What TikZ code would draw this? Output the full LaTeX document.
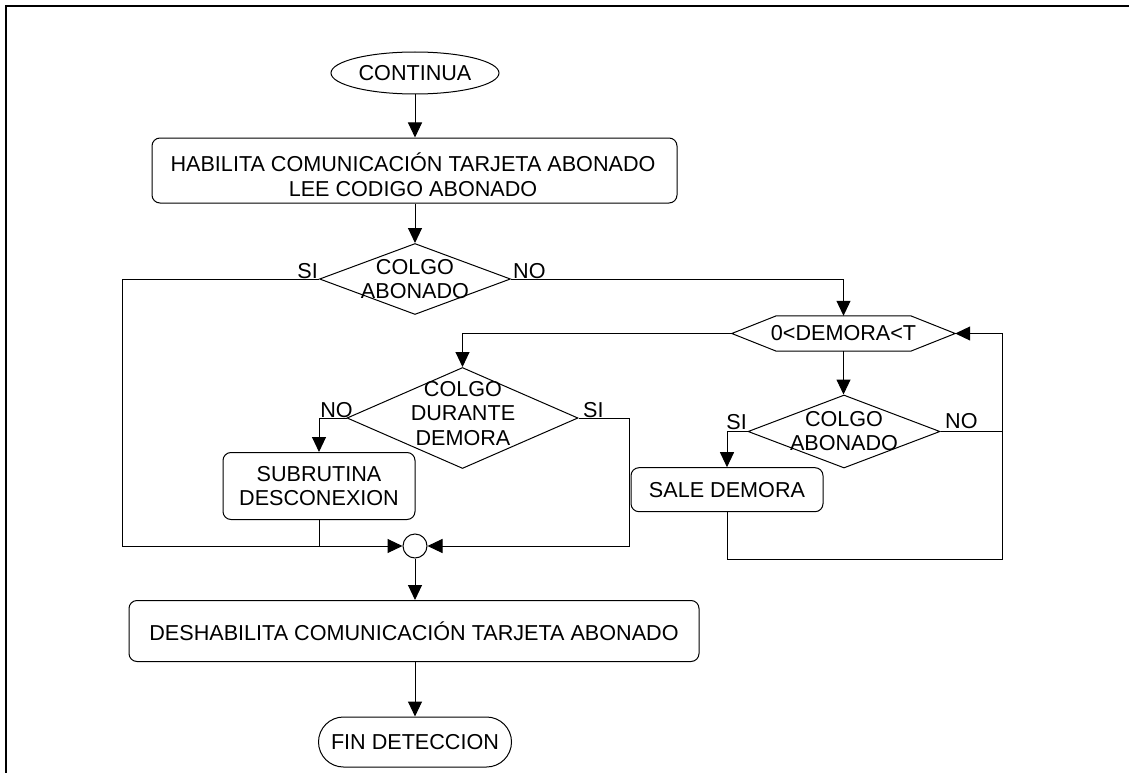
\documentclass[tikz,border=0pt]{standalone}
\usepackage{fontspec}
\setmainfont{Liberation Sans}
\usetikzlibrary{shapes.geometric,arrows.meta,calc}
\begin{document}
\begin{tikzpicture}[x=1pt,y=-1pt,
  every node/.style={font=\fontsize{21.6}{24.5}\selectfont, text=black},
  box/.style={draw, rectangle, rounded corners=8pt, line width=1pt, inner sep=0, align=center},
  dia/.style={draw, diamond, inner sep=0, line width=1pt},
  txt/.style={align=center, inner sep=0},
  lbl/.style={inner sep=0},
  conn/.style={line width=1pt},
  arr/.style={conn, -{Triangle[length=15pt,width=14pt]}},
]
\useasboundingbox (0,0) rectangle (1129,773);
\draw[line width=2pt] (6,774) -- (6,6) -- (1130,6);

% nodes
\node[draw, ellipse, minimum width=168pt, minimum height=42pt, inner sep=0, line width=1pt] (cont) at (415,73) {CONTINUA};
\node[box, minimum width=525pt, minimum height=65pt] (b1) at (414.5,170.5) {};
\node[txt, font=\fontsize{21.6}{25}\selectfont] (b1t) at (413,175) {HABILITA COMUNICACIÓN TARJETA ABONADO\\LEE CODIGO ABONADO};
\node[dia, minimum width=191pt, minimum height=71pt] (d1) at (415,279) {};
\node[txt] (d1t) at (415,279) {COLGO\\ABONADO};
\node[minimum width=223pt, minimum height=35pt, inner sep=0] (hex) at (843.5,333.5) {0\textless DEMORA\textless T};
\draw[conn] (hex.west) -- ($(hex.north west)+(44.5,0)$) -- ($(hex.north east)+(-44.5,0)$) -- (hex.east) -- ($(hex.south east)+(-44.5,0)$) -- ($(hex.south west)+(44.5,0)$) -- cycle;
\node[dia, minimum width=231pt, minimum height=101pt] (d2) at (462.5,418) {};
\node[txt] (d2t) at (463,413.5) {COLGO\\DURANTE\\DEMORA};
\node[dia, minimum width=192pt, minimum height=73pt] (d3) at (844,431.5) {};
\node[txt] (d3t) at (844,431) {COLGO\\ABONADO};
\node[box, minimum width=192pt, minimum height=67pt] (sub) at (319,486) {SUBRUTINA\\DESCONEXION};
\node[box, minimum width=192pt, minimum height=44pt] (sale) at (727,489.7) {SALE DEMORA};
\node[draw, circle, minimum size=24pt, inner sep=0, line width=1pt] (circ) at (415,546) {};
\node[box, minimum width=570pt, minimum height=61pt] (b2) at (414,631) {DESHABILITA COMUNICACIÓN TARJETA ABONADO};
\node[box, rounded corners=25pt, minimum width=193pt, minimum height=50pt] (fin) at (415,742) {FIN DETECCION};

% helper coordinates
\coordinate (sil) at (122,546);
\coordinate (rl) at (1002.7,559);
\coordinate (sir) at (629,546);

% connectors
\draw[arr] (cont.south) -- (cont.south |- b1.north);
\draw[arr] (d1.north |- b1.south) -- (d1.north);
\draw[arr] (d1.west) -- (d1.west -| sil) -- (sil) -- (circ.west);
\draw[arr] (d1.east) -- (d1.east -| hex.north) -- (hex.north);
\draw[arr] (hex.west) -- (hex.west -| d2.north) -- (d2.north);
\draw[arr] (hex.south) -- (hex.south |- d3.north);
\draw[arr] (d3.west) -- (d3.west -| sale.north) -- (sale.north);
\draw[conn] (d3.east) -- (d3.east -| rl);
\draw[arr] (sale.south) -- (sale.south |- rl) -- (rl) -- (rl |- hex.east) -- (hex.east);
\draw[arr] (d2.west) -- (d2.west -| sub.north) -- (sub.north);
\draw[arr] (d2.east) -- (d2.east -| sir) -- (sir) -- (circ.east);
\draw[conn] (sub.south) -- (sub.south |- circ.west);
\draw[arr] (circ.south) -- (circ.south |- b2.north);
\draw[arr] (fin.north |- b2.south) -- (fin.north);

% labels
\node[lbl, anchor=base east] (l1) at (318,278.5) {SI};
\node[lbl, anchor=base west] (l2) at (513,278.5) {NO};
\node[lbl, anchor=base east] (l3) at (353,417.5) {NO};
\node[lbl, anchor=base west] (l4) at (583,417) {SI};
\node[lbl, anchor=base east] (l5) at (747,429.5) {SI};
\node[lbl, anchor=base west] (l6) at (945,428) {NO};
\end{tikzpicture}
\end{document}
